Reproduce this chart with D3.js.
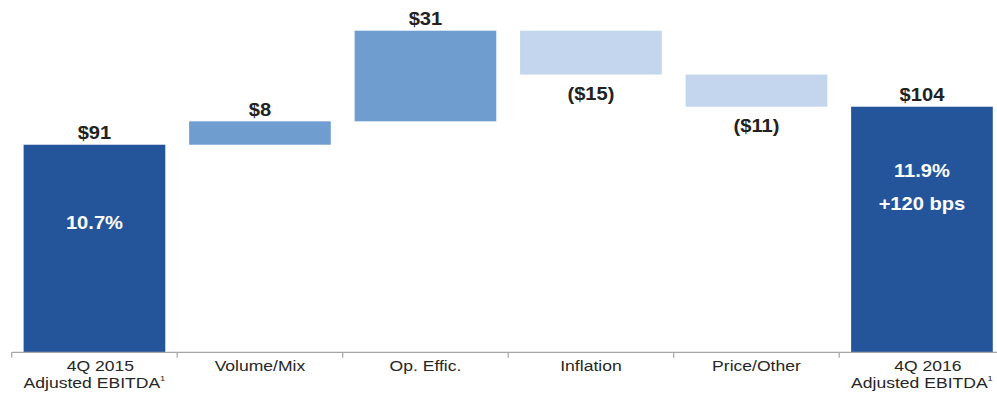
<!DOCTYPE html>
<html>
<head>
<meta charset="utf-8">
<script src="https://cdn.jsdelivr.net/npm/d3@7"></script>
<style>
  html, body { margin: 0; padding: 0; background: #ffffff; }
  svg { display: block; }
  text { font-family: "Liberation Sans", Arial, sans-serif; }
</style>
</head>
<body>
<svg id="chart" width="997" height="405"></svg>
<script>
// EBITDA bridge, 4Q 2015 -> 4Q 2016 ($ millions)
const categories = ["4Q 2015|Adjusted EBITDA", "Volume/Mix", "Op. Effic.", "Inflation", "Price/Other", "4Q 2016|Adjusted EBITDA"];
const kinds      = ["total", "delta", "delta", "delta", "delta", "total"];
const values     = [91, 8, 31, -15, -11, 104];
const valueLabels = ["$91", "$8", "$31", "($15)", "($11)", "$104"];
const marginNotes = [["10.7%"], [], [], [], [], ["11.9%", "+120 bps"]];

const colors = { total: "#24559b", up: "#709dd0", down: "#c3d6ee" };

const svg = d3.select("#chart");
const baseY = 352.3;

// running totals -> start/end of every step
let running = 0;
const steps = categories.map((c, i) => {
  let start, end;
  if (kinds[i] === "total") { start = 20; end = values[i]; running = values[i]; }
  else { start = running; end = running + values[i]; running = end; }
  return { cat: c, i, start, end, v: values[i], kind: kinds[i] };
});

const x = d3.scaleBand()
  .domain(categories)
  .range([11.7, 1004.7])
  .paddingInner(0.144)
  .paddingOuter(0.072);

const y = d3.scaleLinear().domain([20, 130]).range([baseY, 30.7]);

const fill = d => d.kind === "total" ? colors.total : (d.v >= 0 ? colors.up : colors.down);

// bars
svg.append("g").selectAll("rect").data(steps).join("rect")
  .attr("x", d => x(d.cat))
  .attr("width", x.bandwidth())
  .attr("y", d => y(Math.max(d.start, d.end)))
  .attr("height", d => Math.abs(y(d.start) - y(d.end)))
  .attr("fill", fill);

// axis line with ticks on band boundaries
const axis = svg.append("g");
axis.append("line")
  .attr("x1", x.range()[0]).attr("x2", 997)
  .attr("y1", baseY).attr("y2", baseY)
  .attr("stroke", "#a6a6a6").attr("stroke-width", 1.2);
const step = x.step();
d3.range(categories.length + 1).forEach(k => {
  const tx = x.range()[0] + k * step;
  axis.append("line")
    .attr("x1", tx).attr("x2", tx)
    .attr("y1", baseY).attr("y2", baseY + 5.5)
    .attr("stroke", "#a6a6a6").attr("stroke-width", 1.2);
});

const sx = 1.15; // wide lettering

// value labels above rises / totals, below declines
svg.append("g").selectAll("text").data(steps).join("text")
  .attr("text-anchor", "middle")
  .attr("font-size", 17.5)
  .attr("font-weight", "bold")
  .attr("fill", "#222222")
  .attr("transform", d => {
    const cx = x(d.cat) + x.bandwidth() / 2;
    const ty = d.v >= 0 ? y(Math.max(d.start, d.end)) - 5.8 : y(Math.min(d.start, d.end)) + 25;
    return `translate(${cx},${ty}) scale(${sx},1)`;
  })
  .text(d => valueLabels[d.i]);

// margin notes inside total bars
const noteOffsets = [[84], [], [], [], [], [70, 103]];
steps.forEach(d => {
  marginNotes[d.i].forEach((t, j) => {
    const cx = x(d.cat) + x.bandwidth() / 2;
    svg.append("text")
      .attr("text-anchor", "middle")
      .attr("font-size", 17.5)
      .attr("font-weight", "bold")
      .attr("fill", "#ffffff")
      .attr("transform", `translate(${cx},${y(d.end) + noteOffsets[d.i][j]}) scale(${sx},1)`)
      .text(t);
  });
});

// category labels (two lines for totals, with footnote marker)
steps.forEach(d => {
  const cx = x(d.cat) + x.bandwidth() / 2;
  const lines = d.cat.split("|");
  lines.forEach((ln, j) => {
    const t = svg.append("text")
      .attr("text-anchor", "middle")
      .attr("font-size", 15)
      .attr("fill", "#262626")
      .attr("transform", `translate(${cx + (j === 0 && lines.length > 1 ? 6 : 0)},${371 + j * 17.3}) scale(1.17,1)`);
    t.append("tspan").text(ln);
    if (j === 1) {
      t.append("tspan").attr("font-size", 8).attr("dy", -7).text("1");
    }
  });
});
</script>
</body>
</html>
